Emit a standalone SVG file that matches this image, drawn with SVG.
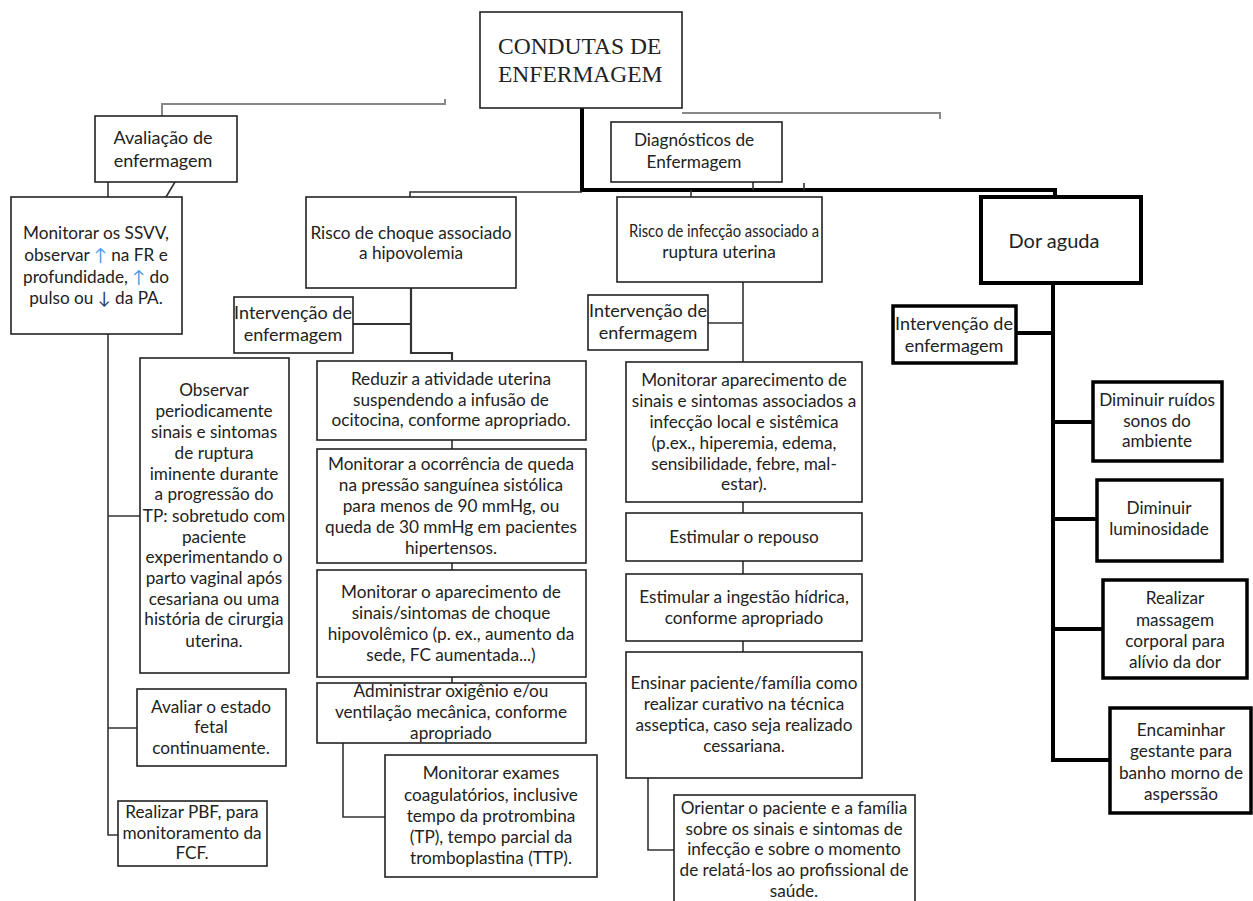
<svg xmlns="http://www.w3.org/2000/svg" width="1253" height="901" viewBox="0 0 1253 901">
<style>
.b{fill:#fff;stroke:#222;stroke-width:1.6}
.bk{fill:#fff;stroke:#000;stroke-width:4}
.t{font-family:Lato,"Open Sans",sans-serif;font-size:17.2px;fill:#222;text-anchor:middle}
.i{font-size:18px}
.c{fill:none;stroke:#333;stroke-width:1.6}
.cg{fill:none;stroke:#888;stroke-width:2}
.ck{fill:none;stroke:#000;stroke-width:4}
</style>
<rect width="1253" height="901" fill="#fff"/>
<g id="connectors">
<path class="cg" d="M162,116 V104 H445 V99"/>
<path class="cg" d="M682,113 H940 V119"/>
<path class="ck" d="M582,108 V190 H1055 V197"/>
<path class="c" d="M410,197 V192 H582"/>
<path class="c" d="M753,182 V190 M804,183 V190 M691,190 V197"/>
<path class="c" d="M108,182 V197 M175,182 L166,197"/>
<path class="c" d="M108,334 V835 H118 M108,516 H140 M108,728 H137"/>
<path class="c" style="stroke-width:2.2" d="M411,288 V353 H452 V360 M353,324 H411"/>
<path class="c" d="M452,440 V449 M452,563 V570 M452,677 V683 M343,743 V817 H385"/>
<path class="c" d="M743,282 V362 M708,323 H743 M743,502 V513 M743,561 V574 M743,641 V652 M648,778 V850 H674"/>
<path class="ck" d="M1053,283 V760 H1110 M1016,333 H1053 M1053,422 H1093 M1053,519 H1097 M1053,629 H1103"/>
</g>
<g id="root">
<rect class="b" x="480" y="12" width="202" height="96"/>
<text x="498" y="54" style="font-family:'Liberation Serif',serif;font-size:23.5px;fill:#222">CONDUTAS DE</text>
<text x="498" y="82" style="font-family:'Liberation Serif',serif;font-size:23.5px;fill:#222">ENFERMAGEM</text>
</g>
<g id="avaliacao">
<rect class="b" x="95" y="116" width="142" height="66"/>
<text class="t i" x="163" y="144">Avaliação de</text>
<text class="t i" x="163" y="167">enfermagem</text>
</g>
<g id="diagnosticos">
<rect class="b" x="611" y="122" width="171" height="60"/>
<text class="t" x="694" y="146">Diagnósticos de</text>
<text class="t" x="694" y="168">Enfermagem</text>
</g>
<g id="ssvv">
<rect class="b" x="11" y="197" width="171" height="137"/>
<text class="t" x="96" y="239">Monitorar os SSVV,</text>
<text class="t" x="96" y="261">observar <tspan fill="#4a9ee0">↑</tspan> na FR e</text>
<text class="t" x="96" y="283">profundidade, <tspan fill="#4a9ee0">↑</tspan> do</text>
<text class="t" x="96" y="304">pulso ou <tspan fill="#2a3a66">↓</tspan> da PA.</text>
</g>
<g id="observar">
<rect class="b" x="140" y="358" width="149" height="315"/>
<text class="t" x="214" y="396">Observar</text>
<text class="t" x="214" y="417">periodicamente</text>
<text class="t" x="214" y="438">sinais e sintomas</text>
<text class="t" x="214" y="459">de ruptura</text>
<text class="t" x="214" y="480">iminente durante</text>
<text class="t" x="214" y="500">a progressão do</text>
<text class="t" x="214" y="522">TP: sobretudo com</text>
<text class="t" x="214" y="543">paciente</text>
<text class="t" x="214" y="563">experimentando o</text>
<text class="t" x="214" y="584">parto vaginal  após</text>
<text class="t" x="214" y="605">cesariana ou uma</text>
<text class="t" x="214" y="625">história de cirurgia</text>
<text class="t" x="214" y="647">uterina.</text>
</g>
<g id="avaliar">
<rect class="b" x="137" y="689" width="149" height="77"/>
<text class="t" x="211" y="713">Avaliar o estado</text>
<text class="t" x="211" y="733">fetal</text>
<text class="t" x="211" y="754">continuamente.</text>
</g>
<g id="pbf">
<rect class="b" x="118" y="801" width="149" height="65"/>
<text class="t" x="192" y="818">Realizar PBF, para</text>
<text class="t" x="192" y="839">monitoramento da</text>
<text class="t" x="192" y="859">FCF.</text>
</g>
<g id="choque">
<rect class="b" x="306" y="197" width="210" height="91"/>
<text class="t" x="411" y="239">Risco de choque associado</text>
<text class="t" x="411" y="259">a hipovolemia</text>
</g>
<g id="interv-choque">
<rect class="b" x="234" y="297" width="119" height="56"/>
<text class="t i" x="293" y="319">Intervenção de</text>
<text class="t i" x="293" y="341">enfermagem</text>
</g>
<g id="reduzir">
<rect class="b" x="317" y="361" width="269" height="79"/>
<text class="t" x="451" y="385">Reduzir a atividade  uterina</text>
<text class="t" x="451" y="406">suspendendo a infusão  de</text>
<text class="t" x="451" y="426">ocitocina, conforme apropriado.</text>
</g>
<g id="queda">
<rect class="b" x="317" y="449" width="269" height="114"/>
<text class="t" x="451" y="470">Monitorar a ocorrência de queda</text>
<text class="t" x="451" y="491">na pressão  sanguínea  sistólica</text>
<text class="t" x="451" y="512">para menos  de 90 mmHg,  ou</text>
<text class="t" x="451" y="533">queda de 30 mmHg  em pacientes</text>
<text class="t" x="451" y="554">hipertensos.</text>
</g>
<g id="choque-sinais">
<rect class="b" x="317" y="570" width="269" height="107"/>
<text class="t" x="451" y="598">Monitorar o aparecimento de</text>
<text class="t" x="451" y="619">sinais/sintomas  de choque</text>
<text class="t" x="451" y="640">hipovolêmico (p. ex., aumento da</text>
<text class="t" x="451" y="661">sede, FC aumentada...)</text>
</g>
<g id="oxigenio">
<rect class="b" x="317" y="683" width="269" height="60"/>
<text class="t" x="451" y="697">Administrar oxigênio e/ou</text>
<text class="t" x="451" y="718">ventilação mecânica, conforme</text>
<text class="t" x="451" y="739">apropriado</text>
</g>
<g id="exames">
<rect class="b" x="385" y="755" width="212" height="122"/>
<text class="t" x="491" y="779">Monitorar exames</text>
<text class="t" x="491" y="801">coagulatórios, inclusive</text>
<text class="t" x="491" y="822">tempo da protrombina</text>
<text class="t" x="491" y="843">(TP), tempo parcial da</text>
<text class="t" x="491" y="864">tromboplastina (TTP).</text>
</g>
<g id="infeccao">
<rect class="b" x="617" y="197" width="205" height="85"/>
<text class="t" x="724" y="237" textLength="190" lengthAdjust="spacingAndGlyphs">Risco de infecção associado a</text>
<text class="t" x="719" y="258">ruptura uterina</text>
</g>
<g id="interv-infeccao">
<rect class="b" x="588" y="295" width="120" height="55"/>
<text class="t i" x="648" y="317">Intervenção de</text>
<text class="t i" x="648" y="339">enfermagem</text>
</g>
<g id="infeccao-sinais">
<rect class="b" x="626" y="362" width="236" height="140"/>
<text class="t" x="744" y="386">Monitorar aparecimento de</text>
<text class="t" x="744" y="407">sinais e sintomas  associados a</text>
<text class="t" x="744" y="428">infecção local e sistêmica</text>
<text class="t" x="744" y="449">(p.ex., hiperemia, edema,</text>
<text class="t" x="744" y="470">sensibilidade, febre, mal-</text>
<text class="t" x="744" y="490">estar).</text>
</g>
<g id="repouso">
<rect class="b" x="626" y="513" width="236" height="48"/>
<text class="t" x="744" y="543">Estimular  o repouso</text>
</g>
<g id="hidrica">
<rect class="b" x="626" y="574" width="236" height="67"/>
<text class="t" x="744" y="603">Estimular  a ingestão  hídrica,</text>
<text class="t" x="744" y="624">conforme apropriado</text>
</g>
<g id="ensinar">
<rect class="b" x="626" y="652" width="236" height="126"/>
<text class="t" x="744" y="689">Ensinar paciente/família  como</text>
<text class="t" x="744" y="710">realizar curativo na técnica</text>
<text class="t" x="744" y="731">asseptica, caso seja realizado</text>
<text class="t" x="744" y="752">cessariana.</text>
</g>
<g id="orientar">
<rect class="b" x="674" y="795" width="241" height="120"/>
<text class="t" x="794" y="814">Orientar o paciente e a família</text>
<text class="t" x="794" y="835">sobre os sinais e sintomas  de</text>
<text class="t" x="794" y="855">infecção e sobre o momento</text>
<text class="t" x="794" y="876">de relatá-los ao profissional  de</text>
<text class="t" x="794" y="897">saúde.</text>
</g>
<g id="dor">
<rect class="bk" x="981" y="197" width="160" height="86"/>
<text class="t" x="1054" y="248" style="font-size:20px">Dor aguda</text>
</g>
<g id="interv-dor">
<rect class="bk" x="893" y="306" width="123" height="57" style="stroke-width:3.5"/>
<text class="t i" x="954" y="330">Intervenção de</text>
<text class="t i" x="954" y="352">enfermagem</text>
</g>
<g id="ruidos">
<rect class="bk" x="1093" y="382" width="129" height="79" style="stroke-width:3.5"/>
<text class="t" x="1157" y="406">Diminuir ruídos</text>
<text class="t" x="1157" y="427">sonos do</text>
<text class="t" x="1157" y="447">ambiente</text>
</g>
<g id="luminosidade">
<rect class="bk" x="1097" y="480" width="125" height="81" style="stroke-width:3.5"/>
<text class="t" x="1159" y="514">Diminuir</text>
<text class="t" x="1159" y="535">luminosidade</text>
</g>
<g id="massagem">
<rect class="bk" x="1103" y="580" width="144" height="98" style="stroke-width:3.5"/>
<text class="t" x="1175" y="604">Realizar</text>
<text class="t" x="1175" y="626">massagem</text>
<text class="t" x="1175" y="647">corporal para</text>
<text class="t" x="1175" y="668">alívio da dor</text>
</g>
<g id="encaminhar">
<rect class="bk" x="1110" y="708" width="141" height="105" style="stroke-width:3.5"/>
<text class="t" x="1181" y="736">Encaminhar</text>
<text class="t" x="1181" y="757">gestante para</text>
<text class="t" x="1181" y="779">banho morno de</text>
<text class="t" x="1181" y="800">asperssão</text>
</g>
</svg>
